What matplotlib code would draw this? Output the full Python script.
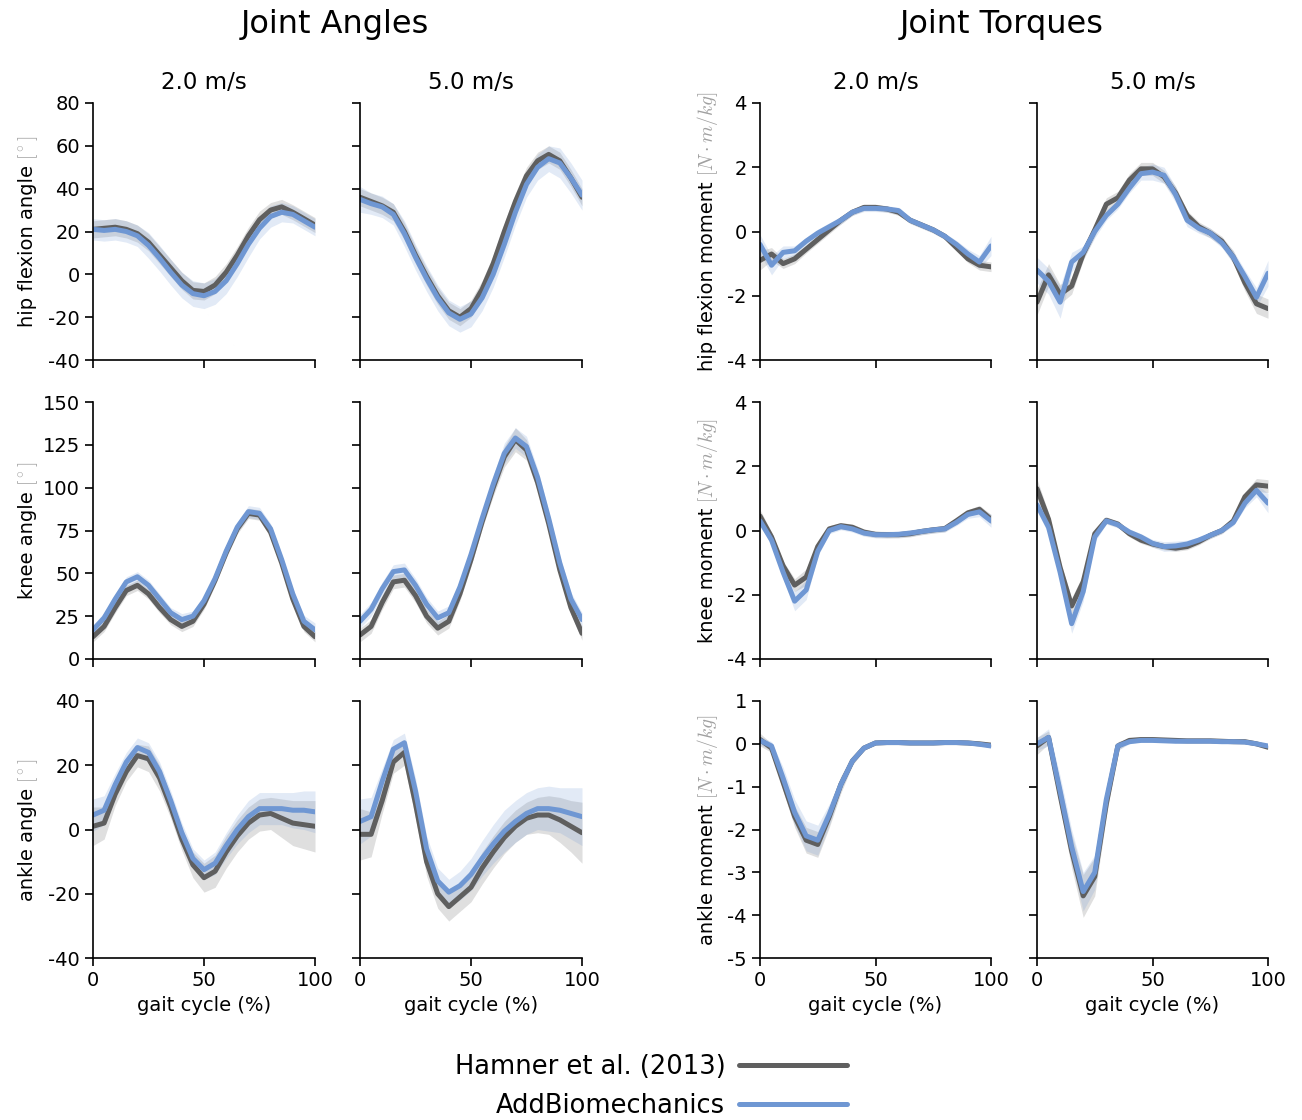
#!/usr/bin/env python3
"""Joint angles and torques over the gait cycle: Hamner et al. vs AddBiomechanics."""
import numpy as np
import matplotlib
matplotlib.use('Agg')
import matplotlib.pyplot as plt

GAIT = [0, 5, 10, 15, 20, 25, 30, 35, 40, 45, 50, 55, 60, 65, 70, 75, 80, 85, 90, 95, 100]
SPEEDS = ['2.0 m/s', '5.0 m/s']
SOURCES = ['Hamner et al. (2013)', 'AddBiomechanics']

# ---- joint angles (deg) ----
hip_ang_2_ham = [21, 21.5, 22, 21, 19, 15, 9, 3, -3, -7.5, -8, -5, 1, 9, 18, 25.5, 30, 31.5, 29, 26, 23]
hip_ang_2_ham_sd = [4, 4, 4, 4, 4, 4, 4, 4, 4, 4, 4, 4, 4, 4, 4, 4, 3.5, 3.5, 3.5, 3.5, 3.5]
hip_ang_2_add = [21, 20.5, 21, 20, 18, 13.5, 7.5, 1, -5, -9, -10, -8, -3, 5, 14, 21.5, 27, 29, 28, 25, 22]
hip_ang_2_add_sd = [5, 5, 5, 5, 5, 6, 6, 6, 6, 6, 6, 6, 6, 6, 6, 5, 5, 4.5, 4, 4, 4]

hip_ang_5_ham = [36, 34, 32, 29, 20, 9, -1, -10, -17, -20, -16, -7, 5, 20, 34, 46, 53, 56, 53, 45, 36]
hip_ang_5_ham_sd = [4, 4, 4, 4, 4, 4, 4, 4, 4, 4, 4, 4, 4, 4, 4, 4, 4, 4, 4, 4, 4]
hip_ang_5_add = [35, 33, 31.5, 28, 19, 8, -2, -11, -18, -21, -18.5, -11, 0, 14, 29, 42, 50, 54, 52, 45, 37]
hip_ang_5_add_sd = [6, 5, 5, 5, 6, 6, 6, 6, 6, 6, 6, 6, 6, 6, 6, 6, 6, 6, 7, 7, 7]

knee_ang_2_ham = [13, 19, 30, 40, 43, 38, 30, 23, 19, 22, 32, 46, 62, 76, 85, 84, 74, 56, 35, 19, 13]
knee_ang_2_ham_sd = [3, 3, 3, 3, 3, 3, 3, 3, 3, 3, 3, 3, 3, 3, 3, 3, 3, 3, 3, 3, 3]
knee_ang_2_add = [17, 24, 35, 45, 48, 43, 35, 27, 23, 25, 34, 47, 63, 77, 86, 85, 76, 58, 38, 22, 17]
knee_ang_2_add_sd = [3, 3, 3, 3, 3, 3, 3, 3, 3.5, 3, 3, 3, 3, 3, 3.5, 3.5, 3, 3, 3, 3.5, 4]

knee_ang_5_ham = [14, 19, 33, 45, 46, 37, 25, 18, 22, 38, 58, 80, 100, 118, 128, 122, 103, 79, 52, 30, 15]
knee_ang_5_ham_sd = [4, 4, 4, 4, 4, 4, 4, 4, 4, 4, 4, 4, 5, 6, 7, 6, 5, 4, 4, 4, 4]
knee_ang_5_add = [22, 29, 41, 51, 52, 43, 32, 24, 27, 42, 61, 82, 102, 120, 129, 124, 106, 82, 56, 35, 23]
knee_ang_5_add_sd = [4, 4, 4, 4, 4, 4, 4, 4, 4, 4, 4, 4, 5, 6, 6, 6, 5, 4, 4, 4, 4]

ank_ang_2_ham = [1, 2, 11, 18, 23, 22, 16, 7, -3, -11, -15, -13, -7, -2, 2, 4.5, 5, 3.5, 2, 1.5, 1]
ank_ang_2_ham_sd = [6, 5, 3.5, 3, 3.5, 4, 4, 3.5, 3.5, 4, 4.5, 5, 5, 5, 5, 5, 5, 6, 7, 7.5, 8]
ank_ang_2_add = [4.5, 6, 14, 21, 25.5, 24, 18, 9, -1, -9, -12.5, -10.5, -5, 0, 4, 6.5, 6.5, 6.5, 6, 6, 5.5]
ank_ang_2_add_sd = [5, 4.5, 3.5, 3, 3, 3, 3, 3, 3, 3, 3, 3.5, 4, 4.5, 5, 5, 5, 5, 5.5, 6, 6.5]

ank_ang_5_ham = [-1.5, -1.5, 9, 21, 24, 8, -10, -20, -24, -21, -18, -12, -7, -2.5, 1, 3.5, 4.5, 4.5, 3, 1, -1]
ank_ang_5_ham_sd = [8, 7, 4, 3.5, 4, 4.5, 4.5, 4.5, 4.5, 4.5, 4.5, 5, 5, 5, 5, 5, 5.5, 6, 7, 8, 9.5]
ank_ang_5_add = [2.5, 4, 15, 25, 27, 12, -6, -16, -19.5, -17.5, -14, -9, -4.5, -0.5, 2.5, 5, 6.5, 6.5, 6, 5, 4]
ank_ang_5_add_sd = [7, 6, 4, 3, 3, 4, 4, 4, 4, 4.5, 5, 5.5, 6, 6.5, 6.5, 6.5, 6.5, 7, 7, 8, 9]

# ---- joint torques (N*m/kg) ----
hip_mom_2_ham = [-0.9, -0.7, -1.0, -0.85, -0.55, -0.25, 0.05, 0.35, 0.6, 0.75, 0.75, 0.7, 0.6, 0.35, 0.2, 0.05, -0.15, -0.5, -0.85, -1.05, -1.1]
hip_mom_2_ham_sd = [0.3, 0.2, 0.15, 0.15, 0.12, 0.12, 0.12, 0.12, 0.1, 0.1, 0.1, 0.1, 0.1, 0.1, 0.1, 0.1, 0.1, 0.1, 0.12, 0.15, 0.15]
hip_mom_2_add = [-0.4, -1.05, -0.65, -0.6, -0.3, -0.05, 0.15, 0.35, 0.6, 0.72, 0.72, 0.7, 0.65, 0.35, 0.2, 0.05, -0.15, -0.4, -0.7, -0.95, -0.45]
hip_mom_2_add_sd = [0.3, 0.3, 0.2, 0.15, 0.12, 0.12, 0.12, 0.12, 0.1, 0.1, 0.1, 0.1, 0.1, 0.1, 0.1, 0.1, 0.1, 0.12, 0.15, 0.2, 0.3]

hip_mom_5_ham = [-2.2, -1.35, -1.95, -1.7, -0.7, 0.05, 0.85, 1.05, 1.6, 1.95, 1.95, 1.7, 1.2, 0.5, 0.15, -0.05, -0.3, -0.8, -1.6, -2.25, -2.4]
hip_mom_5_ham_sd = [0.4, 0.35, 0.3, 0.25, 0.2, 0.2, 0.2, 0.2, 0.2, 0.2, 0.2, 0.2, 0.2, 0.15, 0.15, 0.15, 0.15, 0.2, 0.25, 0.3, 0.3]
hip_mom_5_add = [-1.2, -1.55, -2.2, -0.95, -0.65, 0.0, 0.5, 0.85, 1.35, 1.8, 1.85, 1.75, 1.15, 0.35, 0.1, -0.05, -0.35, -0.8, -1.4, -2.05, -1.3]
hip_mom_5_add_sd = [0.4, 0.4, 0.5, 0.3, 0.2, 0.2, 0.15, 0.15, 0.15, 0.2, 0.25, 0.25, 0.25, 0.2, 0.15, 0.15, 0.15, 0.2, 0.2, 0.3, 0.4]

knee_mom_2_ham = [0.45, -0.2, -1.1, -1.7, -1.45, -0.5, 0.05, 0.15, 0.1, -0.05, -0.12, -0.13, -0.13, -0.1, -0.03, 0.02, 0.06, 0.3, 0.55, 0.66, 0.35]
knee_mom_2_ham_sd = [0.2, 0.15, 0.15, 0.2, 0.25, 0.15, 0.1, 0.1, 0.1, 0.1, 0.1, 0.1, 0.1, 0.1, 0.1, 0.1, 0.1, 0.1, 0.1, 0.12, 0.15]
knee_mom_2_add = [0.3, -0.3, -1.3, -2.2, -1.85, -0.65, 0.0, 0.12, 0.05, -0.08, -0.13, -0.13, -0.12, -0.08, -0.03, 0.02, 0.05, 0.25, 0.5, 0.58, 0.3]
knee_mom_2_add_sd = [0.15, 0.15, 0.2, 0.3, 0.3, 0.15, 0.1, 0.1, 0.1, 0.1, 0.1, 0.1, 0.1, 0.1, 0.1, 0.1, 0.1, 0.1, 0.12, 0.15, 0.2]

knee_mom_5_ham = [1.3, 0.35, -1.15, -2.35, -1.6, -0.1, 0.32, 0.2, -0.1, -0.3, -0.42, -0.5, -0.55, -0.5, -0.35, -0.15, 0.0, 0.3, 1.05, 1.42, 1.38]
knee_mom_5_ham_sd = [0.3, 0.2, 0.2, 0.25, 0.25, 0.15, 0.1, 0.1, 0.1, 0.1, 0.1, 0.1, 0.1, 0.1, 0.1, 0.1, 0.1, 0.1, 0.15, 0.2, 0.2]
knee_mom_5_add = [0.8, 0.1, -1.3, -2.9, -1.9, -0.2, 0.3, 0.18, -0.05, -0.2, -0.4, -0.5, -0.48, -0.42, -0.3, -0.15, 0.0, 0.25, 0.85, 1.25, 0.85]
knee_mom_5_add_sd = [0.2, 0.2, 0.25, 0.3, 0.3, 0.15, 0.1, 0.1, 0.1, 0.1, 0.12, 0.15, 0.15, 0.12, 0.1, 0.1, 0.1, 0.1, 0.15, 0.2, 0.3]

ank_mom_2_ham = [0.1, -0.1, -0.9, -1.7, -2.25, -2.35, -1.7, -0.95, -0.4, -0.1, 0.02, 0.03, 0.03, 0.02, 0.02, 0.02, 0.03, 0.03, 0.02, 0.0, -0.03]
ank_mom_2_ham_sd = [0.15, 0.1, 0.2, 0.25, 0.3, 0.3, 0.25, 0.2, 0.1, 0.05, 0.03, 0.03, 0.03, 0.03, 0.03, 0.03, 0.03, 0.03, 0.03, 0.03, 0.03]
ank_mom_2_add = [0.08, -0.05, -0.8, -1.6, -2.15, -2.25, -1.65, -0.95, -0.4, -0.1, 0.02, 0.03, 0.03, 0.02, 0.02, 0.02, 0.03, 0.03, 0.02, -0.01, -0.05]
ank_mom_2_add_sd = [0.1, 0.1, 0.25, 0.3, 0.35, 0.35, 0.25, 0.15, 0.08, 0.05, 0.03, 0.03, 0.03, 0.03, 0.03, 0.03, 0.03, 0.03, 0.03, 0.03, 0.03]

ank_mom_5_ham = [-0.05, 0.15, -1.2, -2.5, -3.55, -3.1, -1.4, -0.05, 0.08, 0.1, 0.1, 0.09, 0.08, 0.07, 0.07, 0.07, 0.06, 0.05, 0.05, 0.0, -0.08]
ank_mom_5_ham_sd = [0.2, 0.15, 0.3, 0.4, 0.5, 0.45, 0.3, 0.1, 0.05, 0.04, 0.04, 0.04, 0.04, 0.04, 0.04, 0.04, 0.04, 0.04, 0.04, 0.04, 0.04]
ank_mom_5_add = [0.0, 0.15, -1.1, -2.4, -3.45, -3.0, -1.3, -0.05, 0.05, 0.08, 0.08, 0.07, 0.06, 0.06, 0.06, 0.06, 0.05, 0.05, 0.04, 0.0, -0.05]
ank_mom_5_add_sd = [0.15, 0.2, 0.35, 0.4, 0.45, 0.4, 0.3, 0.1, 0.05, 0.03, 0.03, 0.03, 0.03, 0.03, 0.03, 0.03, 0.03, 0.03, 0.03, 0.03, 0.03]

ANGLE_LABELS = ['hip flexion angle', 'knee angle', 'ankle angle']
TORQUE_LABELS = ['hip flexion moment', 'knee moment', 'ankle moment']
ANGLE_UNIT = r'$[^\circ]$'
TORQUE_UNIT = r'$[N \cdot m / kg]$'

ANGLE_YLIM = [(-40, 80), (0, 150), (-40, 40)]
ANGLE_YTICKS = [[-40, -20, 0, 20, 40, 60, 80], [0, 25, 50, 75, 100, 125, 150], [-40, -20, 0, 20, 40]]
TORQUE_YLIM = [(-4, 4), (-4, 4), (-5, 1)]
TORQUE_YTICKS = [[-4, -2, 0, 2, 4], [-4, -2, 0, 2, 4], [-5, -4, -3, -2, -1, 0, 1]]

# panel grid: rows = joints, cols = angle 2.0, angle 5.0, torque 2.0, torque 5.0
PANELS = [
    [(hip_ang_2_ham, hip_ang_2_ham_sd, hip_ang_2_add, hip_ang_2_add_sd),
     (hip_ang_5_ham, hip_ang_5_ham_sd, hip_ang_5_add, hip_ang_5_add_sd),
     (hip_mom_2_ham, hip_mom_2_ham_sd, hip_mom_2_add, hip_mom_2_add_sd),
     (hip_mom_5_ham, hip_mom_5_ham_sd, hip_mom_5_add, hip_mom_5_add_sd)],
    [(knee_ang_2_ham, knee_ang_2_ham_sd, knee_ang_2_add, knee_ang_2_add_sd),
     (knee_ang_5_ham, knee_ang_5_ham_sd, knee_ang_5_add, knee_ang_5_add_sd),
     (knee_mom_2_ham, knee_mom_2_ham_sd, knee_mom_2_add, knee_mom_2_add_sd),
     (knee_mom_5_ham, knee_mom_5_ham_sd, knee_mom_5_add, knee_mom_5_add_sd)],
    [(ank_ang_2_ham, ank_ang_2_ham_sd, ank_ang_2_add, ank_ang_2_add_sd),
     (ank_ang_5_ham, ank_ang_5_ham_sd, ank_ang_5_add, ank_ang_5_add_sd),
     (ank_mom_2_ham, ank_mom_2_ham_sd, ank_mom_2_add, ank_mom_2_add_sd),
     (ank_mom_5_ham, ank_mom_5_ham_sd, ank_mom_5_add, ank_mom_5_add_sd)],
]

C_HAM = '#5f5f5f'
C_ADD = '#6f97d3'
C_UNIT = '#a0a0a0'

plt.rcParams['font.family'] = ['DejaVu Sans']
plt.rcParams['axes.unicode_minus'] = False
plt.rcParams['mathtext.fontset'] = 'cm'

W, H = 1302, 1120
COL_LEFT = [93, 360, 760, 1037]
COL_W = [222, 222, 231, 231]
ROW_TOP = [103, 402, 701]
ROW_H = 257


def main():
    fig = plt.figure(figsize=(W / 100, H / 100), dpi=100)
    x = np.array(GAIT)
    lines = []
    labels_to_fix = []
    for r in range(3):
        for c in range(4):
            left = COL_LEFT[c] / W
            bottom = 1 - (ROW_TOP[r] + ROW_H) / H
            ax = fig.add_axes([left, bottom, COL_W[c] / W, ROW_H / H])
            ham, ham_sd, add, add_sd = [np.array(v, dtype=float) for v in PANELS[r][c]]
            ax.fill_between(x, ham - ham_sd, ham + ham_sd, color=C_HAM, alpha=0.2, lw=0)
            ax.fill_between(x, add - add_sd, add + add_sd, color=C_ADD, alpha=0.2, lw=0)
            l1, = ax.plot(x, ham, color=C_HAM, lw=3.6, solid_capstyle='round', solid_joinstyle='round')
            l2, = ax.plot(x, add, color=C_ADD, lw=3.6, solid_capstyle='round', solid_joinstyle='round')
            if r == 0 and c == 0:
                lines = [l1, l2]
            ax.set_xlim(0, 100)
            ax.set_xticks([0, 50, 100])
            if c < 2:
                ax.set_ylim(*ANGLE_YLIM[r])
                ax.set_yticks(ANGLE_YTICKS[r])
            else:
                ax.set_ylim(*TORQUE_YLIM[r])
                ax.set_yticks(TORQUE_YTICKS[r])
            for s in ['top', 'right']:
                ax.spines[s].set_visible(False)
            for s in ['left', 'bottom']:
                ax.spines[s].set_linewidth(1.2)
            ax.tick_params(length=6, width=1.2, labelsize=14)
            if r < 2:
                ax.tick_params(labelbottom=False)
            else:
                ax.set_xlabel('gait cycle (%)', fontsize=14)
            if c in (1, 3):
                ax.tick_params(labelleft=False)
            if r == 0:
                ax.set_title(SPEEDS[c % 2], fontsize=16.5, pad=10)
            if c == 0:
                labels_to_fix.append((33, ROW_TOP[r] + ROW_H / 2, ANGLE_LABELS[r], ANGLE_UNIT))
            elif c == 2:
                labels_to_fix.append((713, ROW_TOP[r] + ROW_H / 2, TORQUE_LABELS[r], TORQUE_UNIT))

    # two-tone y labels: black name, grey unit
    pairs = []
    for xp, yc, main_txt, unit in labels_to_fix:
        t1 = fig.text(xp / W, 1 - yc / H, main_txt, rotation=90, rotation_mode='anchor',
                      ha='right', va='baseline', fontsize=14, color='black')
        t2 = fig.text(xp / W, 1 - yc / H, unit, rotation=90, rotation_mode='anchor',
                      ha='left', va='baseline', fontsize=14, color=C_UNIT)
        pairs.append((xp, yc, t1, t2))
    fig.canvas.draw()
    rend = fig.canvas.get_renderer()
    gap = 5
    for xp, yc, t1, t2 in pairs:
        h1 = t1.get_window_extent(rend).height
        h2 = t2.get_window_extent(rend).height
        total = h1 + gap + h2
        anchor = (H - yc) - total / 2 + h1  # pixels from bottom
        t1.set_position((xp / W, anchor / H))
        t2.set_position((xp / W, (anchor + gap) / H))

    fig.text(335 / W, 1 - 25 / H, 'Joint Angles', ha='center', va='center', fontsize=23)
    fig.text(1002 / W, 1 - 25 / H, 'Joint Torques', ha='center', va='center', fontsize=23)

    fig.legend(lines, SOURCES, loc='upper center', bbox_to_anchor=(0.5, 1 - 1031 / H),
               frameon=False, markerfirst=False, fontsize=18.5, handlelength=4.2,
               handletextpad=0.55, labelspacing=0.5)

    fig.savefig('out.png', dpi=100)
    print('Saved: out.png')


if __name__ == '__main__':
    main()
